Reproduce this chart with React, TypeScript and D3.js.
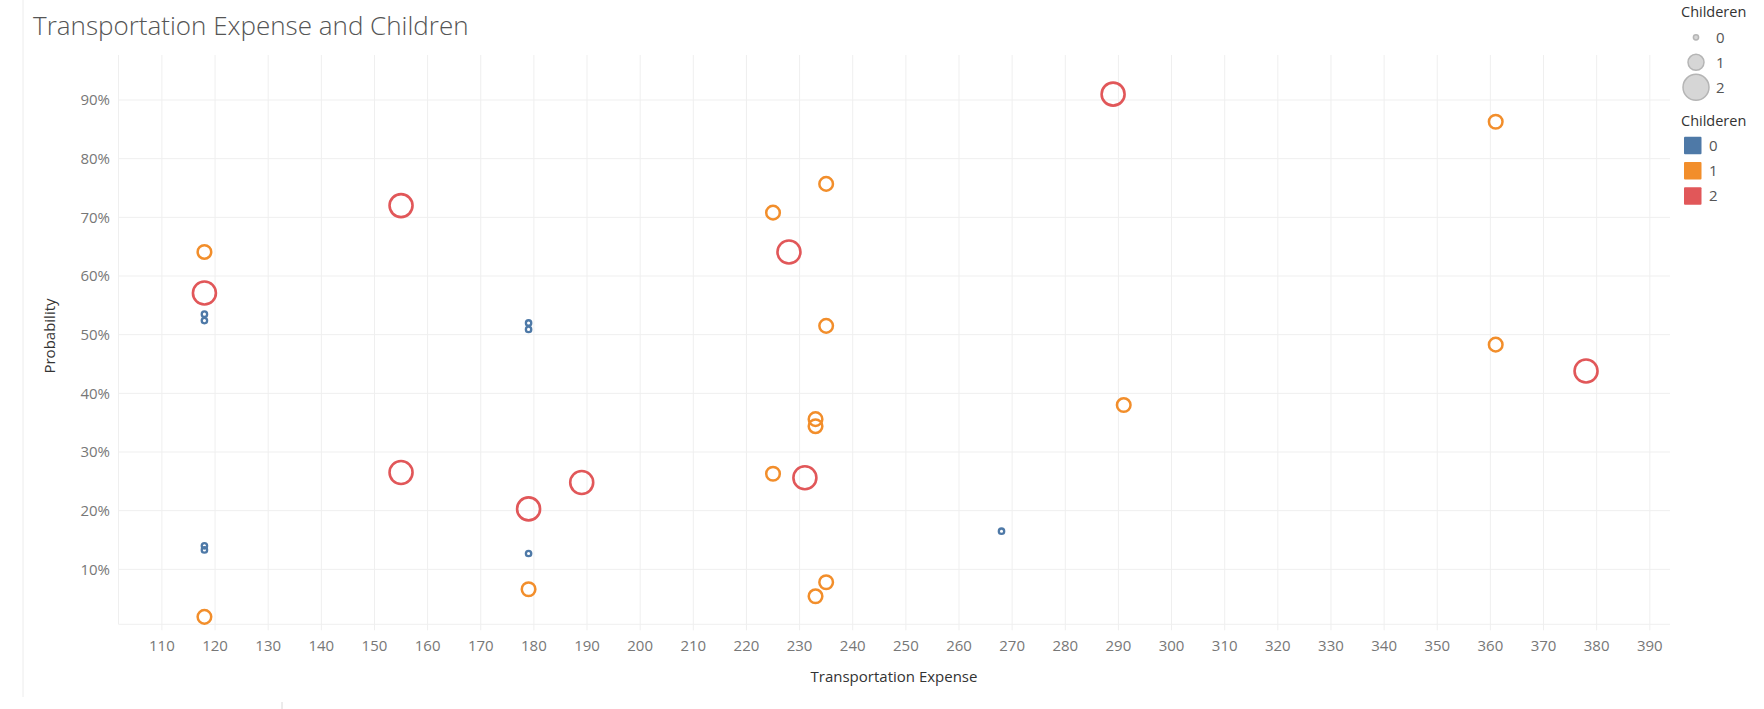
import React from "react";
import * as d3 from "d3";

// ---- data ----
const transportExpense = [289, 361, 235, 155, 225, 228, 118, 118, 118, 118, 179, 179, 235, 361, 378, 291, 233, 233, 155, 225, 231, 189, 179, 268, 118, 118, 179, 179, 235, 233, 118];
const probability = [0.910, 0.863, 0.757, 0.720, 0.708, 0.641, 0.641, 0.571, 0.535, 0.524, 0.520, 0.509, 0.515, 0.483, 0.438, 0.380, 0.356, 0.344, 0.265, 0.263, 0.256, 0.248, 0.203, 0.165, 0.140, 0.133, 0.127, 0.066, 0.078, 0.054, 0.019];
const children = [2, 1, 1, 2, 1, 2, 1, 2, 0, 0, 0, 0, 1, 1, 2, 1, 1, 1, 2, 1, 2, 2, 2, 0, 0, 0, 0, 1, 1, 1, 1];

const childCategories = [0, 1, 2];
const categoryColors = ["#4e79a7", "#f28e2b", "#e15759"];
const xTicks = d3.range(110, 391, 10);
const yTicks = [0.1, 0.2, 0.3, 0.4, 0.5, 0.6, 0.7, 0.8, 0.9];

const W = 1764;
const H = 709;
const plot = { left: 118.5, right: 1670, top: 55, bottom: 624.3 };

const FONT = "'Open Sans', 'Noto Sans', 'DejaVu Sans', sans-serif";

export default function App() {
  const x = d3.scaleLinear().domain([101.83, 393.8]).range([plot.left, plot.right]);
  const y = d3.scaleLinear().domain([0.0063, 0.9767]).range([plot.bottom, plot.top]);
  const color = d3.scaleOrdinal<number, string>().domain(childCategories).range(categoryColors);
  const radius = d3.scaleOrdinal<number, number>().domain(childCategories).range([2.7, 6.8, 11.5]);
  const strokeW = d3.scaleOrdinal<number, number>().domain(childCategories).range([2.3, 2.5, 2.6]);
  const legendRadius = d3.scaleOrdinal<number, number>().domain(childCategories).range([2.6, 8, 13]);
  const pct = d3.format(".0%");

  const points = transportExpense.map((v, i) => ({ v, p: probability[i], c: children[i] }));
  // draw bigger marks first so small ones stay visible
  const ordered = [...points].sort((a, b) => b.c - a.c);

  const gridColor = "#efefef";

  return (
    <svg
      width={W}
      height={H}
      style={{ position: "absolute", left: 0, top: 0, background: "#fff" }}
      fontFamily={FONT}
    >
      {/* dashboard borders */}
      <line x1={23} x2={23} y1={0} y2={697} stroke="#ececec" strokeWidth={1} />
      <line x1={282} x2={282} y1={702} y2={709} stroke="#d8d8d8" strokeWidth={1} />

      {/* title */}
      <text x={33} y={35} fontSize={26} fontWeight={300} fill="#555">
        Transportation Expense and Children
      </text>

      {/* gridlines */}
      <g>
        {xTicks.map((t) => (
          <line key={"vx" + t} x1={x(t)} x2={x(t)} y1={plot.top} y2={plot.bottom + 6} stroke={gridColor} strokeWidth={1} />
        ))}
        <line x1={plot.left} x2={plot.left} y1={plot.top} y2={plot.bottom} stroke={gridColor} strokeWidth={1} />
        {yTicks.map((t) => (
          <line key={"hy" + t} x1={plot.left} x2={plot.right} y1={y(t)} y2={y(t)} stroke={gridColor} strokeWidth={1} />
        ))}
        <line x1={plot.left} x2={plot.right} y1={plot.bottom} y2={plot.bottom} stroke={gridColor} strokeWidth={1} />
      </g>

      {/* y tick labels */}
      <g fontSize={15} fill="#777" textAnchor="end">
        {yTicks.map((t) => (
          <text key={"yl" + t} x={110} y={y(t) + 5.3}>
            {pct(t)}
          </text>
        ))}
      </g>

      {/* x tick labels */}
      <g fontSize={15} fill="#777" textAnchor="middle">
        {xTicks.map((t) => (
          <text key={"xl" + t} x={x(t)} y={650.5}>
            {t}
          </text>
        ))}
      </g>

      {/* axis titles */}
      <text x={894} y={682} fontSize={15} fill="#333" textAnchor="middle">
        Transportation Expense
      </text>
      <text transform="translate(55,336) rotate(-90)" fontSize={15} fill="#333" textAnchor="middle">
        Probability
      </text>

      {/* marks */}
      <g fill="none">
        {ordered.map((d, i) => (
          <circle
            key={"pt" + i}
            cx={x(d.v)}
            cy={y(d.p)}
            r={radius(d.c)}
            stroke={color(d.c)}
            strokeWidth={strokeW(d.c)}
          />
        ))}
      </g>

      {/* size legend */}
      <text x={1681} y={17} fontSize={14.5} fill="#333">
        Childeren
      </text>
      {childCategories.map((c, i) => (
        <g key={"sl" + c}>
          <circle cx={1696} cy={37.3 + i * 25} r={legendRadius(c)} fill="#d6d6d6" stroke="#b5b5b5" strokeWidth={1.5} />
          <text x={1716} y={37.3 + i * 25 + 5.3} fontSize={15} fill="#555">
            {c}
          </text>
        </g>
      ))}

      {/* color legend */}
      <text x={1681} y={126} fontSize={14.5} fill="#333">
        Childeren
      </text>
      {childCategories.map((c, i) => (
        <g key={"cl" + c}>
          <rect x={1684} y={136.7 + i * 25.3} width={17.5} height={17.5} rx={1} fill={color(c)} />
          <text x={1709} y={136.7 + i * 25.3 + 8.75 + 5.3} fontSize={15} fill="#555">
            {c}
          </text>
        </g>
      ))}
    </svg>
  );
}
